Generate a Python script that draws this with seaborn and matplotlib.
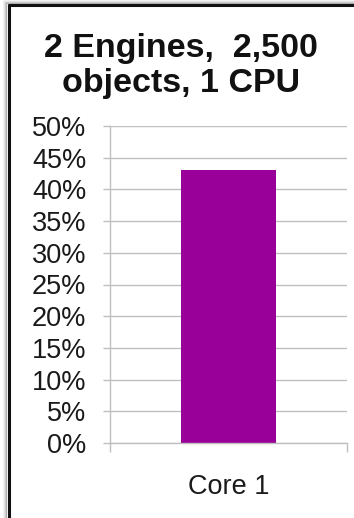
import matplotlib
matplotlib.use("Agg")
import matplotlib.pyplot as plt
import seaborn as sns
import pandas as pd
from matplotlib.patches import Rectangle
from matplotlib.lines import Line2D

categories = ["Core 1"]
values = [43]
title_lines = ["2 Engines,  2,500", "objects, 1 CPU"]
yticks = [0, 5, 10, 15, 20, 25, 30, 35, 40, 45, 50]

sns.set_theme(style="white")
plt.rcParams['font.family'] = ['Liberation Sans', 'DejaVu Sans']

W, H = 354, 518
fig = plt.figure(figsize=(W / 100, H / 100), dpi=100)
ax = fig.add_axes([110 / W, (H - 443) / H, (347 - 110) / W, (443 - 126) / H])

df = pd.DataFrame({"cat": categories, "val": values})
sns.barplot(data=df, x="cat", y="val", color="#990099", saturation=1,
            width=0.40, edgecolor="none", ax=ax)

ax.set_xlim(-0.5, 0.5)
ax.set_ylim(0, 50)
ax.set_yticks(yticks)
ax.set_yticklabels([f"{v}%" for v in yticks])
ax.yaxis.grid(True, color="#C0C0C0", linewidth=1.0)
ax.set_axisbelow(True)
ax.set_xlabel("")
ax.set_ylabel("")

for s in ["top", "right"]:
    ax.spines[s].set_visible(False)
for s in ["left", "bottom"]:
    ax.spines[s].set_color("#BFBFBF")
    ax.spines[s].set_linewidth(1.0)

ax.tick_params(axis="y", which="major", left=True, length=5, width=1.0,
               color="#BFBFBF", pad=12, labelsize=19.5, labelcolor="#1a1a1a")
ax.tick_params(axis="x", which="major", bottom=False, length=0, pad=22,
               labelsize=19.5, labelcolor="#1a1a1a")
ax.set_xticks([-0.5, 0.5], minor=True)
ax.tick_params(axis="x", which="minor", bottom=True, length=6.5, width=1.0,
               color="#BFBFBF")

fig.text(181 / W, 1 - 57 / H, title_lines[0], ha="center", va="baseline",
         fontsize=24.5, fontweight="bold", color="#111111")
fig.text(181 / W, 1 - 92 / H, title_lines[1], ha="center", va="baseline",
         fontsize=24.5, fontweight="bold", color="#111111")

# frame with shadow (screenshot border)
for i, c in enumerate(["#f4f4f4", "#e6e6e6", "#d0d0d0", "#b0b0b0"]):
    off = 4 - i
    fig.add_artist(Line2D([(7 - off) / W, (7 - off) / W], [0, 1 - (4 - off) / H],
                          transform=fig.transFigure, color=c, linewidth=0.9))
    fig.add_artist(Line2D([(7 - off) / W, 1], [1 - (4 - off) / H, 1 - (4 - off) / H],
                          transform=fig.transFigure, color=c, linewidth=0.9))
fig.add_artist(Line2D([9 / W, 9 / W], [0, 1 - 5 / H], transform=fig.transFigure,
                      color="#111111", linewidth=2.2))
fig.add_artist(Line2D([9 / W, 1], [1 - 5 / H, 1 - 5 / H], transform=fig.transFigure,
                      color="#111111", linewidth=2.2))

fig.savefig("out.png", dpi=100)
